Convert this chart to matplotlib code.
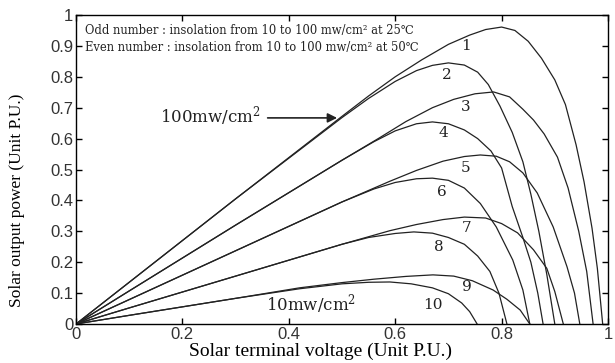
import numpy as np
import matplotlib
matplotlib.use("Agg")
import matplotlib.pyplot as plt

plt.rcParams['mathtext.fontset'] = 'dejavuserif'

# ---- data (per unit) ----
v1 = [0, 0.1, 0.3, 0.5, 0.55, 0.6, 0.65, 0.7, 0.74, 0.77, 0.80, 0.825, 0.85, 0.875, 0.9, 0.92, 0.94, 0.955, 0.97, 0.98, 0.99]
p1 = [0, 0.135, 0.405, 0.672, 0.738, 0.80, 0.855, 0.905, 0.935, 0.953, 0.961, 0.95, 0.915, 0.86, 0.79, 0.71, 0.58, 0.46, 0.31, 0.18, 0.0]

v2 = [0, 0.1, 0.3, 0.5, 0.55, 0.6, 0.64, 0.67, 0.70, 0.73, 0.755, 0.775, 0.797, 0.82, 0.84, 0.855, 0.87, 0.885, 0.90]
p2 = [0, 0.135, 0.405, 0.668, 0.73, 0.785, 0.82, 0.837, 0.845, 0.838, 0.815, 0.775, 0.705, 0.62, 0.525, 0.42, 0.30, 0.16, 0.0]

v3 = [0, 0.1, 0.3, 0.5, 0.57, 0.62, 0.67, 0.71, 0.75, 0.785, 0.815, 0.84, 0.86, 0.88, 0.905, 0.925, 0.945, 0.96, 0.972]
p3 = [0, 0.107, 0.32, 0.53, 0.602, 0.655, 0.70, 0.727, 0.745, 0.751, 0.735, 0.695, 0.66, 0.615, 0.54, 0.44, 0.30, 0.17, 0.0]

v4 = [0, 0.1, 0.3, 0.5, 0.56, 0.6, 0.64, 0.67, 0.70, 0.73, 0.755, 0.78, 0.80, 0.82, 0.84, 0.855, 0.868, 0.878]
p4 = [0, 0.107, 0.32, 0.53, 0.59, 0.625, 0.648, 0.654, 0.648, 0.628, 0.60, 0.56, 0.505, 0.38, 0.28, 0.2, 0.1, 0.0]

v5 = [0, 0.1, 0.3, 0.5, 0.59, 0.64, 0.69, 0.73, 0.76, 0.79, 0.815, 0.84, 0.867, 0.897, 0.923, 0.937, 0.947]
p5 = [0, 0.079, 0.237, 0.395, 0.462, 0.497, 0.527, 0.542, 0.547, 0.543, 0.525, 0.489, 0.424, 0.314, 0.185, 0.10, 0.0]

v6 = [0, 0.1, 0.3, 0.5, 0.56, 0.6, 0.64, 0.67, 0.70, 0.73, 0.76, 0.79, 0.821, 0.84, 0.853]
p6 = [0, 0.079, 0.237, 0.395, 0.437, 0.458, 0.47, 0.472, 0.465, 0.44, 0.39, 0.314, 0.207, 0.11, 0.0]

v7 = [0, 0.1, 0.3, 0.5, 0.59, 0.64, 0.69, 0.73, 0.77, 0.80, 0.83, 0.86, 0.885, 0.90, 0.916]
p7 = [0, 0.052, 0.155, 0.258, 0.302, 0.322, 0.338, 0.346, 0.343, 0.325, 0.295, 0.24, 0.18, 0.105, 0.0]

v8 = [0, 0.1, 0.3, 0.5, 0.55, 0.6, 0.635, 0.67, 0.70, 0.73, 0.755, 0.778, 0.795, 0.81]
p8 = [0, 0.052, 0.155, 0.258, 0.28, 0.293, 0.298, 0.294, 0.28, 0.258, 0.22, 0.17, 0.10, 0.0]

v9 = [0, 0.1, 0.3, 0.42, 0.5, 0.56, 0.62, 0.671, 0.71, 0.745, 0.784, 0.81, 0.835, 0.853]
p9 = [0, 0.028, 0.083, 0.117, 0.134, 0.145, 0.154, 0.159, 0.155, 0.14, 0.11, 0.08, 0.045, 0.0]

v10 = [0, 0.1, 0.3, 0.42, 0.5, 0.55, 0.59, 0.63, 0.67, 0.70, 0.725, 0.74, 0.754]
p10 = [0, 0.028, 0.083, 0.114, 0.13, 0.135, 0.136, 0.13, 0.117, 0.098, 0.068, 0.04, 0.0]

curve_labels = ['1', '2', '3', '4', '5', '6', '7', '8', '9', '10']
label_x = [0.733, 0.697, 0.733, 0.69, 0.733, 0.688, 0.735, 0.682, 0.735, 0.671]
label_y = [0.90, 0.806, 0.702, 0.618, 0.505, 0.427, 0.311, 0.249, 0.120, 0.061]

ticks = [0, 0.2, 0.4, 0.6, 0.8, 1]
yticks = [0, 0.1, 0.2, 0.3, 0.4, 0.5, 0.6, 0.7, 0.8, 0.9, 1]

serif = ['Liberation Serif', 'DejaVu Serif']
wide_serif = ['DejaVu Serif']
sans = ['Liberation Sans', 'DejaVu Sans']
ink = '#222222'

fig = plt.figure(figsize=(6.15, 3.63), dpi=100)
ax = fig.add_axes([76 / 615, 1 - 324 / 363, 532 / 615, 309 / 363])

curves = [(v1, p1), (v2, p2), (v3, p3), (v4, p4), (v5, p5),
          (v6, p6), (v7, p7), (v8, p8), (v9, p9), (v10, p10)]
for v, p in curves:
    ax.plot(v, p, color=ink, lw=0.9)

for t, x, y in zip(curve_labels, label_x, label_y):
    ax.text(x, y, t, family=wide_serif, fontsize=11, ha='center', va='center', color=ink)

ax.text(0.017, 0.951, 'Odd number : insolation from 10 to 100 mw/cm² at 25℃',
        family=wide_serif, fontsize=8.3, va='center', color=ink)
ax.text(0.017, 0.896, 'Even number : insolation from 10 to 100 mw/cm² at 50℃',
        family=wide_serif, fontsize=8.3, va='center', color=ink)

ax.text(0.252, 0.673, '100mw/cm$^2$', family=wide_serif, fontsize=12, ha='center', va='center',
        color=ink)
ax.annotate('', xy=(0.496, 0.667), xytext=(0.355, 0.667),
            arrowprops=dict(arrowstyle='-|>', color=ink, lw=1.2, mutation_scale=14))
ax.text(0.442, 0.065, '10mw/cm$^2$', family=wide_serif, fontsize=12, ha='center', va='center',
        color=ink)

ax.set_xlim(0, 1)
ax.set_ylim(0, 1)
ax.set_xticks(ticks)
ax.set_xticklabels(['0', '0.2', '0.4', '0.6', '0.8', '1'])
ax.set_yticks(yticks)
ax.set_yticklabels(['0', '0.1', '0.2', '0.3', '0.4', '0.5', '0.6', '0.7', '0.8', '0.9', '1'])
ax.tick_params(direction='in', top=True, right=True, length=4, width=1, pad=2,
               labelsize=12, labelcolor='#333333')
for lab in ax.get_xticklabels() + ax.get_yticklabels():
    lab.set_family(sans)
for s in ax.spines.values():
    s.set_linewidth(1.0)

ax.set_xlabel('Solar terminal voltage (Unit P.U.)', family=serif, fontsize=14)
ax.xaxis.set_label_coords(0.46, -0.06)
ax.set_ylabel('Solar output power (Unit P.U.)', family=serif, fontsize=12.5)
ax.yaxis.set_label_coords(-0.096, 0.40)

fig.savefig('out.png', dpi=100)
